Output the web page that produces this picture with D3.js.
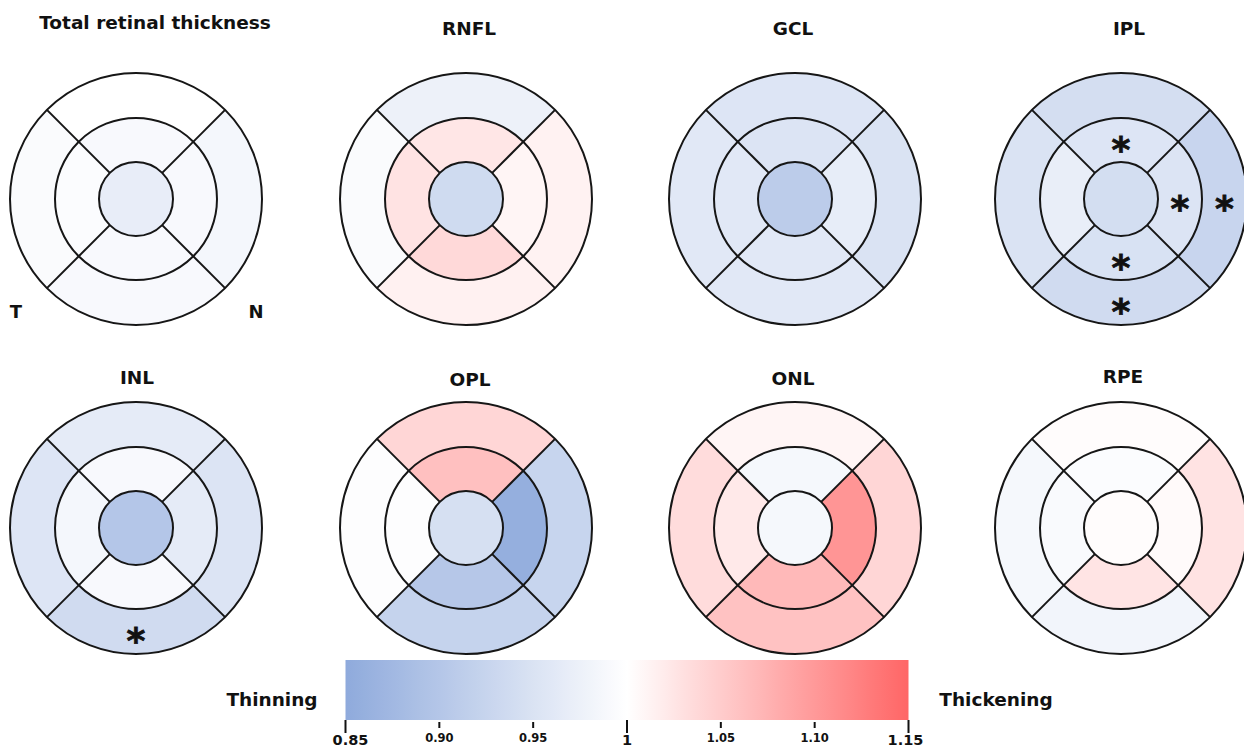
<!DOCTYPE html>
<html>
<head>
<meta charset="utf-8">
<script src="https://cdn.jsdelivr.net/npm/d3@7"></script>
<style>
  body { margin: 0; background: #fff; }
  svg { display: block; }
  text { font-family: "DejaVu Sans", sans-serif; font-weight: bold; fill: #111; }
</style>
</head>
<body>
<svg id="chart" width="1244" height="749"></svg>
<script>
// Layers shown, in reading order (two rows of four)
const layers = ["Total retinal thickness", "RNFL", "GCL", "IPL", "INL", "OPL", "ONL", "RPE"];

// Thickness ratio for each ETDRS region, one value per layer (same order as `layers`)
const central          = [0.969, 0.936, 0.910, 0.941, 0.900, 0.945, 0.987, 1.003];
const innerSuperior    = [0.990, 1.025, 0.953, 0.955, 0.990, 1.062, 0.987, 0.995];
const innerNasal       = [0.990, 1.010, 0.968, 0.953, 0.965, 0.858, 1.104, 1.005];
const innerInferior    = [0.990, 1.037, 0.960, 0.948, 0.990, 0.902, 1.069, 1.026];
const innerTemporal    = [0.995, 1.027, 0.960, 0.970, 0.985, 0.997, 1.022, 0.992];
const outerSuperior    = [1.000, 0.976, 0.955, 0.942, 0.965, 1.040, 1.010, 1.003];
const outerNasal       = [0.985, 1.013, 0.950, 0.926, 0.953, 0.925, 1.040, 1.027];
const outerInferior    = [0.990, 1.014, 0.960, 0.937, 0.937, 0.922, 1.060, 0.982];
const outerTemporal    = [0.993, 0.993, 0.960, 0.950, 0.955, 0.997, 1.034, 0.987];

// Regions marked as statistically significant
const significant = [
  ["IPL", "innerSuperior"], ["IPL", "innerNasal"], ["IPL", "innerInferior"],
  ["IPL", "outerNasal"], ["IPL", "outerInferior"],
  ["INL", "outerInferior"]
];

// Colour bar
const colorDomain = [0.85, 1, 1.15];
const colorRange  = ["#8faadc", "#ffffff", "#ff6666"];
const tickValues  = [0.85, 0.90, 0.95, 1, 1.05, 1.10, 1.15];
const tickLabels  = ["0.85", "0.90", "0.95", "1", "1.05", "1.10", "1.15"];
const majorTicks  = [0.85, 1, 1.15];

const regionSeries = {
  central, innerSuperior, innerNasal, innerInferior, innerTemporal,
  outerSuperior, outerNasal, outerInferior, outerTemporal
};

const svg = d3.select("#chart");
const color = d3.scaleLinear().domain(colorDomain).range(colorRange).clamp(true);

// Grid geometry for the eight maps
const colX = [136, 466, 795, 1121];
const rowY = [199, 528];
const rCenter = 37, rInner = 81, rOuter = 126;
const Q = Math.PI / 4;

// Sector definitions: ring radii and angular span (d3.arc: 0 = up, clockwise)
const sectors = [
  { key: "central",       r0: 0,       r1: rCenter, a0: 0,      a1: 2 * Math.PI },
  { key: "innerSuperior", r0: rCenter, r1: rInner,  a0: -Q,     a1: Q },
  { key: "innerNasal",    r0: rCenter, r1: rInner,  a0: Q,      a1: 3 * Q },
  { key: "innerInferior", r0: rCenter, r1: rInner,  a0: 3 * Q,  a1: 5 * Q },
  { key: "innerTemporal", r0: rCenter, r1: rInner,  a0: 5 * Q,  a1: 7 * Q },
  { key: "outerSuperior", r0: rInner,  r1: rOuter,  a0: -Q,     a1: Q },
  { key: "outerNasal",    r0: rInner,  r1: rOuter,  a0: Q,      a1: 3 * Q },
  { key: "outerInferior", r0: rInner,  r1: rOuter,  a0: 3 * Q,  a1: 5 * Q },
  { key: "outerTemporal", r0: rInner,  r1: rOuter,  a0: 5 * Q,  a1: 7 * Q }
];

const arc = d3.arc()
  .innerRadius(d => d.r0).outerRadius(d => d.r1)
  .startAngle(d => d.a0).endAngle(d => d.a1);

// Title placement relative to each map centre
const titleOffset = [
  { dx: 19, y: 29 }, { dx: 3, y: 35 }, { dx: -2, y: 35 }, { dx: 8, y: 35 },
  { dx: 1, y: 384 }, { dx: 4, y: 386 }, { dx: -2, y: 385 }, { dx: 2, y: 383 }
];

layers.forEach((name, i) => {
  const cx = colX[i % 4], cy = rowY[Math.floor(i / 4)];
  const g = svg.append("g").attr("transform", `translate(${cx},${cy})`);

  g.selectAll("path.sector")
    .data(sectors)
    .join("path")
    .attr("class", "sector")
    .attr("d", arc)
    .attr("fill", d => color(regionSeries[d.key][i]))
    .attr("stroke", "none");

  // ring outlines
  g.selectAll("circle.ring")
    .data([rCenter, rInner, rOuter])
    .join("circle")
    .attr("class", "ring")
    .attr("r", d => d)
    .attr("fill", "none")
    .attr("stroke", "#161616")
    .attr("stroke-width", 2);

  // diagonal dividers between quadrants
  g.selectAll("line.divider")
    .data([Q, 3 * Q, 5 * Q, 7 * Q])
    .join("line")
    .attr("class", "divider")
    .attr("x1", a => d3.pointRadial(a, rCenter)[0])
    .attr("y1", a => d3.pointRadial(a, rCenter)[1])
    .attr("x2", a => d3.pointRadial(a, rOuter)[0])
    .attr("y2", a => d3.pointRadial(a, rOuter)[1])
    .attr("stroke", "#161616")
    .attr("stroke-width", 2);

  // significance markers
  const marks = significant.filter(s => s[0] === name).map(s => sectors.find(d => d.key === s[1]));
  g.selectAll("text.star")
    .data(marks)
    .join("text")
    .attr("class", "star")
    .attr("x", d => arc.centroid(d)[0])
    .attr("y", d => arc.centroid(d)[1])
    .attr("dy", "0.6em")
    .attr("text-anchor", "middle")
    .style("font-size", "36px")
    .style("stroke", "#111")
    .style("stroke-width", 0.8)
    .text("*");

  const t = titleOffset[i];
  svg.append("text")
    .attr("x", cx + t.dx)
    .attr("y", t.y)
    .attr("text-anchor", "middle")
    .style("font-size", "18.5px")
    .text(name);
});

// Orientation labels under the first map
svg.append("text").attr("x", 16).attr("y", 318).attr("text-anchor", "middle")
  .style("font-size", "18px").text("T");
svg.append("text").attr("x", 256).attr("y", 318).attr("text-anchor", "middle")
  .style("font-size", "18px").text("N");

// Colour bar
const barX = d3.scaleLinear().domain([0.85, 1.15]).range([345.5, 908.5]);
const barTop = 660, barH = 60;

const grad = svg.append("defs").append("linearGradient")
  .attr("id", "ratioGradient")
  .attr("x1", "0%").attr("x2", "100%").attr("y1", "0%").attr("y2", "0%");
const steps = d3.range(0, 31).map(k => 0.85 + k * 0.01);
grad.selectAll("stop")
  .data(steps)
  .join("stop")
  .attr("offset", v => (barX(v) - barX.range()[0]) / (barX.range()[1] - barX.range()[0]))
  .attr("stop-color", v => color(v));

svg.append("rect")
  .attr("x", barX(0.85)).attr("y", barTop)
  .attr("width", barX(1.15) - barX(0.85)).attr("height", barH)
  .attr("fill", "url(#ratioGradient)");

const axis = svg.append("g").attr("transform", `translate(0,${barTop + barH})`);
const isMajor = v => majorTicks.includes(v);
axis.selectAll("line")
  .data(tickValues)
  .join("line")
  .attr("x1", v => barX(v)).attr("x2", v => barX(v))
  .attr("y1", v => isMajor(v) ? 0 : 2)
  .attr("y2", v => isMajor(v) ? 13 : 8)
  .attr("stroke", "#111")
  .attr("stroke-width", 2);
axis.selectAll("text")
  .data(tickValues)
  .join("text")
  .attr("x", v => barX(v))
  .attr("dx", v => v === 0.85 ? 5 : (v === 1.15 ? -3 : 0))
  .attr("y", v => isMajor(v) ? 24.5 : 22)
  .attr("text-anchor", "middle")
  .style("font-size", v => isMajor(v) ? "14.5px" : "11.5px")
  .text((v, k) => tickLabels[k]);

svg.append("text").attr("x", 272).attr("y", 706).attr("text-anchor", "middle")
  .style("font-size", "18.5px").text("Thinning");
svg.append("text").attr("x", 996).attr("y", 706).attr("text-anchor", "middle")
  .style("font-size", "18.5px").text("Thickening");
</script>
</body>
</html>
